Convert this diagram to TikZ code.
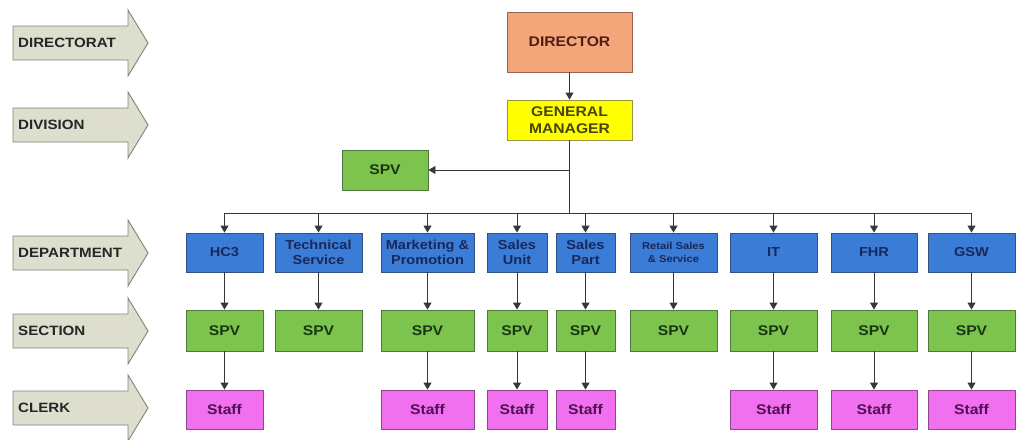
\documentclass[tikz,border=0pt]{standalone}
\usepackage{fontspec}
\setmainfont{Liberation Sans}[FakeStretch=1.12]
\usetikzlibrary{arrows.meta}
\definecolor{dirfill}{RGB}{243,166,122}
\definecolor{dirdraw}{RGB}{150,100,80}
\definecolor{dirtext}{RGB}{80,30,20}
\definecolor{gmfill}{RGB}{255,255,0}
\definecolor{gmdraw}{RGB}{150,150,70}
\definecolor{gmtext}{RGB}{70,70,10}
\definecolor{spvfill}{RGB}{125,196,78}
\definecolor{spvdraw}{RGB}{80,120,60}
\definecolor{spvtext}{RGB}{25,55,15}
\definecolor{depfill}{RGB}{58,124,214}
\definecolor{depdraw}{RGB}{50,80,130}
\definecolor{deptext}{RGB}{25,40,90}
\definecolor{stafffill}{RGB}{240,112,240}
\definecolor{staffdraw}{RGB}{140,70,140}
\definecolor{stafftext}{RGB}{80,15,80}
\definecolor{lvlfill}{RGB}{222,222,206}
\definecolor{lvldraw}{RGB}{130,130,120}
\definecolor{linecol}{RGB}{55,55,55}
\newcommand\lvlarrow[3]{%
  \draw[lvlshape] (13,#2-17) -- (128,#2-17) -- (128,#2-33) -- (148,#2) -- (128,#2+33) -- (128,#2+17) -- (13,#2+17) -- cycle;
  \node[lvltext] (#1) at (18,#2) {#3};}
\begin{document}
\begin{tikzpicture}[x=1pt,y=-1pt,
  lvlshape/.style={fill=lvlfill,draw=lvldraw,line width=0.9pt},
  lvltext/.style={anchor=west,inner sep=0pt,font=\bfseries\fontsize{13.5}{15}\selectfont,text=black!85},
  box/.style={rectangle,inner sep=0pt,align=center,line width=0.9pt},
  dirbox/.style={box,fill=dirfill,draw=dirdraw,text=dirtext,font=\bfseries\fontsize{14}{16}\selectfont},
  gmbox/.style={box,fill=gmfill,draw=gmdraw,text=gmtext,font=\bfseries\fontsize{14}{17}\selectfont},
  spvbox/.style={box,fill=spvfill,draw=spvdraw,text=spvtext,font=\bfseries\fontsize{14}{16}\selectfont},
  depbox/.style={box,fill=depfill,draw=depdraw,text=deptext,minimum height=39pt,font=\bfseries\fontsize{13}{15}\selectfont},
  staffbox/.style={box,fill=stafffill,draw=staffdraw,text=stafftext,minimum height=39pt,font=\bfseries\fontsize{14}{16}\selectfont},
  secbox/.style={spvbox,minimum height=41pt},
  conn/.style={draw=linecol,line width=0.9pt},
  arr/.style={conn,-{Triangle[width=8pt,length=7pt]}}
]
\useasboundingbox (0,0) rectangle (1027,439);
% level arrows
\lvlarrow{ldir}{43}{DIRECTORAT}
\lvlarrow{ldiv}{125}{DIVISION}
\lvlarrow{ldep}{253}{DEPARTMENT}
\lvlarrow{lsec}{331}{SECTION}
\lvlarrow{lcle}{408}{CLERK}
% top
\node[dirbox,minimum width=125pt,minimum height=60pt] (dir) at (569.5,42) {DIRECTOR};
\node[gmbox,minimum width=125pt,minimum height=40pt] (gm) at (569.5,120) {GENERAL\\MANAGER};
\node[spvbox,minimum width=86pt,minimum height=40pt] (spv0) at (385,170) {SPV};
% departments
\node[depbox,minimum width=77pt] (d1) at (224.5,252.5) {HC3};
\node[depbox,minimum width=87pt] (d2) at (318.5,252.5) {Technical\\Service};
\node[depbox,minimum width=93pt] (d3) at (427.5,252.5) {Marketing \&\\Promotion};
\node[depbox,minimum width=60pt] (d4) at (517,252.5) {Sales\\Unit};
\node[depbox,minimum width=59pt] (d5) at (585.5,252.5) {Sales\\Part};
\node[depbox,minimum width=87pt,font=\bfseries\fontsize{10}{13}\selectfont] (d6) at (673.5,252.5) {Retail Sales\\\& Service};
\node[depbox,minimum width=87pt] (d7) at (773.5,252.5) {IT};
\node[depbox,minimum width=86pt] (d8) at (874,252.5) {FHR};
\node[depbox,minimum width=87pt] (d9) at (971.5,252.5) {GSW};
% sections
\node[secbox,minimum width=77pt] (s1) at (224.5,330.5) {SPV};
\node[secbox,minimum width=87pt] (s2) at (318.5,330.5) {SPV};
\node[secbox,minimum width=93pt] (s3) at (427.5,330.5) {SPV};
\node[secbox,minimum width=60pt] (s4) at (517,330.5) {SPV};
\node[secbox,minimum width=59pt] (s5) at (585.5,330.5) {SPV};
\node[secbox,minimum width=87pt] (s6) at (673.5,330.5) {SPV};
\node[secbox,minimum width=87pt] (s7) at (773.5,330.5) {SPV};
\node[secbox,minimum width=86pt] (s8) at (874,330.5) {SPV};
\node[secbox,minimum width=87pt] (s9) at (971.5,330.5) {SPV};
% staff
\node[staffbox,minimum width=77pt] (c1) at (224.5,409.5) {Staff};
\node[staffbox,minimum width=93pt] (c3) at (427.5,409.5) {Staff};
\node[staffbox,minimum width=60pt] (c4) at (517,409.5) {Staff};
\node[staffbox,minimum width=59pt] (c5) at (585.5,409.5) {Staff};
\node[staffbox,minimum width=87pt] (c7) at (773.5,409.5) {Staff};
\node[staffbox,minimum width=86pt] (c8) at (874,409.5) {Staff};
\node[staffbox,minimum width=87pt] (c9) at (971.5,409.5) {Staff};
% connectors
\coordinate (bus) at (569.5,213);
\draw[arr] (dir) -- (gm);
\draw[conn] (gm.south) -- (bus);
\draw[arr] (gm.south |- spv0.east) -- (spv0.east);
\draw[conn] (d1.north |- bus) -- (d9.north |- bus);
\foreach \i in {1,...,9}{
  \draw[arr] (d\i.north |- bus) -- (d\i.north);
  \draw[arr] (d\i) -- (s\i);
}
\foreach \i in {1,3,4,5,7,8,9}{
  \draw[arr] (s\i) -- (c\i);
}
\end{tikzpicture}
\end{document}
